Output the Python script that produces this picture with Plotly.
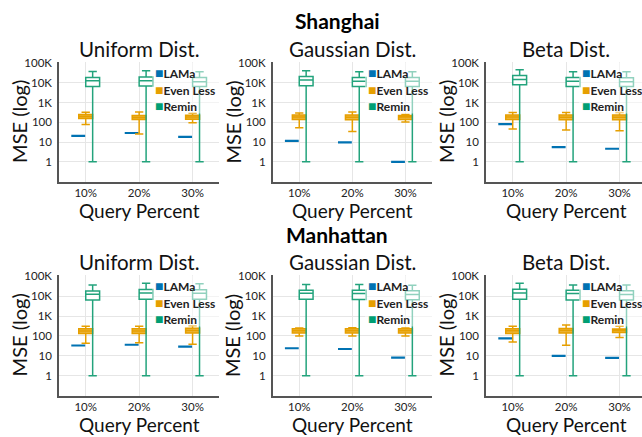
import plotly.graph_objects as go

# ---------------- data ----------------
PCT_LABELS = ["10%", "20%", "30%"]
CATEGORY_INDEX = [0, 1, 2]
METHODS = ["LAMa", "Even Less", "Remin"]
DISTS = ["Uniform Dist.", "Gaussian Dist.", "Beta Dist."]
CITIES = ["Shanghai", "Manhattan"]
Y_TICK_VALUES = [1, 10, 100, 1000, 10000, 100000]
Y_TICK_LABELS = ["1", "10", "100", "1K", "10K", "100K"]

# box stats: (lower whisker, q1, median, q3, upper whisker) per query percent
SH_UNI_LAMA = [20.5, 29, 18.5]
SH_UNI_EVEN = [(79, 158, 200, 250, 330), (26, 140, 178, 225, 340), (96, 146, 185, 230, 290)]
SH_UNI_REMIN = [(1, 6600, 13000, 19000, 38000), (1, 6900, 13000, 20000, 41000), (1, 6600, 11500, 19000, 37000)]

SH_GAU_LAMA = [11.5, 9.6, 1.0]
SH_GAU_EVEN = [(54, 140, 185, 240, 300), (34, 135, 180, 235, 340), (104, 138, 185, 225, 250)]
SH_GAU_REMIN = [(1, 7300, 14000, 21000, 41000), (1, 6600, 12000, 19000, 37000), (1, 6600, 12000, 19000, 37000)]

SH_BETA_LAMA = [82, 5.6, 4.6]
SH_BETA_EVEN = [(46, 140, 185, 240, 316), (41, 135, 180, 235, 316), (38, 135, 180, 235, 316)]
SH_BETA_REMIN = [(1, 8200, 15000, 24000, 46000), (1, 6600, 12000, 19000, 37000), (1, 6600, 11500, 18500, 37000)]

MH_UNI_LAMA = [33, 36, 29]
MH_UNI_EVEN = [(43, 134, 175, 229, 310), (45, 134, 175, 229, 310), (38, 140, 185, 245, 320)]
MH_UNI_REMIN = [(1, 6300, 12400, 18000, 36000), (1, 7000, 14300, 21800, 44000), (1, 7000, 14000, 21000, 42000)]

MH_GAU_LAMA = [24, 22, 8.1]
MH_GAU_EVEN = [(99, 140, 180, 230, 247), (99, 140, 180, 230, 256), (99, 140, 180, 230, 247)]
MH_GAU_REMIN = [(1, 6900, 14000, 19500, 38000), (1, 6700, 13500, 19500, 38000), (1, 6500, 12000, 18500, 35000)]

MH_BETA_LAMA = [76, 10, 7.8]
MH_BETA_EVEN = [(50, 134, 180, 229, 310), (34, 140, 185, 235, 350), (82, 150, 185, 220, 310)]
MH_BETA_REMIN = [(1, 7000, 14500, 22000, 44000), (1, 6300, 13500, 19500, 36000), (1, 6300, 12000, 18500, 36000)]

PANELS = [
    [(SH_UNI_LAMA, SH_UNI_EVEN, SH_UNI_REMIN), (SH_GAU_LAMA, SH_GAU_EVEN, SH_GAU_REMIN), (SH_BETA_LAMA, SH_BETA_EVEN, SH_BETA_REMIN)],
    [(MH_UNI_LAMA, MH_UNI_EVEN, MH_UNI_REMIN), (MH_GAU_LAMA, MH_GAU_EVEN, MH_GAU_REMIN), (MH_BETA_LAMA, MH_BETA_EVEN, MH_BETA_REMIN)],
]

# ---------------- style / layout ----------------
W, H = 642, 437
FONT = "Lato"
COL_PX = [(59, 219.3), (272.7, 432.0), (486.0, 642.0)]
COL_RANGE = [(-0.5, 2.5), (-0.5, 2.5), (-0.5, 2.42)]
ROW_PX = [(57, 178), (273, 395)]  # top, bottom in px
CITY_Y_PX = [15, 232]
Y_RANGE = [-1, 5.05]
OFFSETS = [-0.14, 0.0, 0.13]
BOX_W = 0.26
C_BLUE, C_ORANGE, C_GREEN = "#0072B2", "#E69F00", "#009E73"

def px2x(p):
    return p / W

def px2y(p):
    return 1 - p / H

fig = go.Figure()
annotations = []
shapes = []

for r in range(2):
    for c in range(3):
        k = r * 3 + c + 1
        xa = "x" if k == 1 else f"x{k}"
        ya = "y" if k == 1 else f"y{k}"
        lama, even, remin = PANELS[r][c]

        xs = [i + OFFSETS[0] for i in CATEGORY_INDEX]
        fig.add_trace(go.Box(
            x=xs, q1=lama, median=lama, q3=lama, lowerfence=lama, upperfence=lama,
            width=BOX_W, name="LAMa", line=dict(color=C_BLUE, width=2.2),
            fillcolor=C_BLUE, whiskerwidth=0.6, showlegend=False, xaxis=xa, yaxis=ya,
        ))
        xs = [i + OFFSETS[1] for i in CATEGORY_INDEX]
        fig.add_trace(go.Box(
            x=xs, lowerfence=[s[0] for s in even], q1=[s[1] for s in even],
            median=[s[2] for s in even], q3=[s[3] for s in even], upperfence=[s[4] for s in even],
            width=BOX_W, name="Even Less", line=dict(color=C_ORANGE, width=1.5),
            fillcolor="rgba(230,159,0,0.75)", whiskerwidth=0.6, showlegend=False, xaxis=xa, yaxis=ya,
        ))
        xs = [i + OFFSETS[2] for i in CATEGORY_INDEX]
        fig.add_trace(go.Box(
            x=xs, lowerfence=[s[0] for s in remin], q1=[s[1] for s in remin],
            median=[s[2] for s in remin], q3=[s[3] for s in remin], upperfence=[s[4] for s in remin],
            width=BOX_W, name="Remin", line=dict(color="#23a37c", width=1.5),
            fillcolor="rgba(255,255,255,0.85)", whiskerwidth=0.6, showlegend=False, xaxis=xa, yaxis=ya,
        ))

        left, right = COL_PX[c]
        top, bottom = ROW_PX[r]
        axis_common = dict(showgrid=True, gridcolor="#e6e6e6", gridwidth=1, zeroline=False,
                           showline=True, linecolor="#555555", linewidth=1.5,
                           tickfont=dict(family=FONT, size=11.5, color="#222222"), ticks="")
        fig.update_layout({
            ("xaxis" if k == 1 else f"xaxis{k}"): dict(
                domain=[px2x(left), px2x(right)], range=list(COL_RANGE[c]), anchor=ya,
                tickmode="array", tickvals=CATEGORY_INDEX, ticktext=PCT_LABELS, **axis_common),
            ("yaxis" if k == 1 else f"yaxis{k}"): dict(
                domain=[px2y(bottom), px2y(top)], range=Y_RANGE, type="log", anchor=xa,
                tickmode="array", tickvals=Y_TICK_VALUES, ticktext=Y_TICK_LABELS, ticklabelstandoff=3,
                **axis_common),
        })

        cx = (left + right) / 2
        if c == 2:
            cx = (486 + 646) / 2
        # subplot title
        annotations.append(dict(text=DISTS[c], x=px2x(cx), y=px2y(top - 13.5), xref="paper", yref="paper",
                                showarrow=False, xanchor="center", yanchor="middle",
                                font=dict(family=FONT, size=20.5, color="#111111")))
        # y axis title
        annotations.append(dict(text="MSE (log)", x=px2x(left - 40), y=px2y((top + bottom) / 2),
                                xref="paper", yref="paper", showarrow=False, textangle=-90,
                                xanchor="center", yanchor="middle",
                                font=dict(family=FONT, size=20, color="#111111")))
        # x axis title
        annotations.append(dict(text="Query Percent", x=px2x(cx), y=px2y(bottom + 29),
                                xref="paper", yref="paper", showarrow=False,
                                xanchor="center", yanchor="middle",
                                font=dict(family=FONT, size=19, color="#111111")))
        # legend background + entries
        rr = 646 if c == 2 else right
        shapes.append(dict(type="rect", xref="paper", yref="paper", layer="above",
                           x0=px2x(rr - 67), x1=px2x(min(rr, 642)), y0=px2y(top + 52), y1=px2y(top),
                           fillcolor="rgba(255,255,255,0.5)", line=dict(width=0)))
        for j, (m, col) in enumerate(zip(METHODS, [C_BLUE, C_ORANGE, C_GREEN])):
            annotations.append(dict(
                text=f"<span style='color:{col};font-size:14px'>■</span><b>{m}</b>",
                x=px2x(rr - 66), y=px2y(top + 10.5 + 16.7 * j), xref="paper", yref="paper",
                showarrow=False, xanchor="left", yanchor="middle",
                font=dict(family=FONT, size=12, color="#222222")))

for r, city in enumerate(CITIES):
    annotations.append(dict(text=f"<b>{city}</b>", x=px2x(337), y=px2y(CITY_Y_PX[r]),
                            xref="paper", yref="paper", showarrow=False,
                            xanchor="center", yanchor="middle",
                            font=dict(family=FONT, size=21, color="#000000")))

fig.update_layout(
    width=W, height=H, margin=dict(l=0, r=0, t=0, b=0),
    paper_bgcolor="white", plot_bgcolor="white",
    boxmode="overlay", showlegend=False,
    annotations=annotations, shapes=shapes,
)

fig.write_html("out.html", config={"displayModeBar": False},
               post_script="document.body.style.margin='0';document.body.style.overflow='hidden';")
